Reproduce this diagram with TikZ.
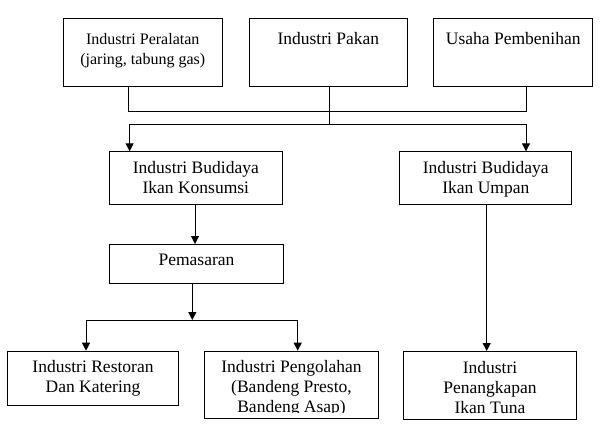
\documentclass[tikz,border=0pt]{standalone}
\usepackage{fontspec}
\setmainfont{Liberation Serif}
\usetikzlibrary{arrows.meta,calc}
\newcommand\myboxat[5]{\node[box,minimum width=#4bp,minimum height=#5bp] (#1) at (#2,#3) {};}
\newcommand\st{\rule{0pt}{14bp}}
\begin{document}
\begin{tikzpicture}[x=1bp,y=-1bp,
  box/.style={draw, line width=1bp, inner sep=0pt, anchor=north west},
  txt/.style={anchor=north, inner sep=0pt, align=center, font=\fontsize{17.5bp}{20bp}\selectfont},
  txts/.style={txt, font=\fontsize{16bp}{20bp}\selectfont},
  conn/.style={line width=1bp},
  arr/.style={conn, -{Triangle[length=8bp,width=8bp]}}]
\useasboundingbox (0,0) rectangle (600,428);
\fill[white] (0,0) rectangle (600,428);
% boxes
\myboxat{b1}{62.5}{18.3}{159.5}{67.2}
\myboxat{b2}{248.8}{18.3}{158}{67.2}
\myboxat{b3}{433.3}{18.3}{159}{67.2}
\myboxat{b4}{108.7}{151.3}{173.3}{52.7}
\myboxat{b5}{399.3}{151.3}{172}{52.7}
\myboxat{pem}{109.3}{244}{173.4}{39}
\myboxat{rest}{6.7}{350.7}{171.6}{54}
\myboxat{peng}{204.3}{350.7}{173.4}{67.3}
\myboxat{tuna}{403.3}{351}{172.4}{68}
% texts
\node[txts] (t1) at ($(b1.north)+(0,12)$) {\st Industri Peralatan\\(jaring, tabung gas)};
\node[txt] (t2) at ($(b2.north)+(0,12)$) {\st Industri Pakan};
\node[txt] (t3) at ($(b3.north)+(0,12)$) {\st Usaha Pembenihan};
\node[txt] (t4) at ($(b4.north)+(0,8)$) {\st Industri Budidaya\\Ikan Konsumsi};
\node[txt] (t5) at ($(b5.north)+(0,8)$) {\st Industri Budidaya\\Ikan Umpan};
\node[txt] (t6) at ($(pem.north)+(0,7.7)$) {\st Pemasaran};
\node[txt] (t7) at ($(rest.north)+(0,7.3)$) {\st Industri Restoran\\Dan Katering};
\begin{scope}
\clip (peng.north west) rectangle ($(peng.south east)+(0,-7)$);
\node[txt] (t8) at ($(peng.north)+(0,7.3)$) {\st Industri Pengolahan\\(Bandeng Presto,\\Bandeng Asap)};
\end{scope}
\node[txt] (t9) at ($(tuna.north)+(0,8)$) {\st Industri\\Penangkapan\\Ikan Tuna};
% junctions
\coordinate (j1) at (128.3,111);
\coordinate (j2) at (329.2,111);
\coordinate (j3) at (526,111);
\coordinate (j4) at (329.2,124.3);
\coordinate (j5) at (129.6,124.3);
\coordinate (j6) at (526,124.3);
\coordinate (k1) at (195,0);
\coordinate (j7) at (192.3,320);
\coordinate (j8) at (86,320);
\coordinate (j9) at (297.7,320);
\coordinate (k2) at (486.7,0);
% connectors
\draw[conn] (b1.south -| j1) -- (j1) -- (j3) -- (b3.south -| j3);
\draw[conn] (b2.south -| j2) -- (j4);
\draw[conn] (j5) -- (j6);
\draw[arr] (j5) -- (b4.north -| j5);
\draw[arr] (j6) -- (b5.north -| j6);
\draw[arr] (b4.south -| k1) -- (pem.north -| k1);
\draw[arr] (pem.south -| j7) -- (j7);
\draw[conn] (j8) -- (j9);
\draw[arr] (j8) -- (rest.north -| j8);
\draw[arr] (j9) -- (peng.north -| j9);
\draw[arr] (b5.south -| k2) -- (tuna.north -| k2);
\end{tikzpicture}
\end{document}
